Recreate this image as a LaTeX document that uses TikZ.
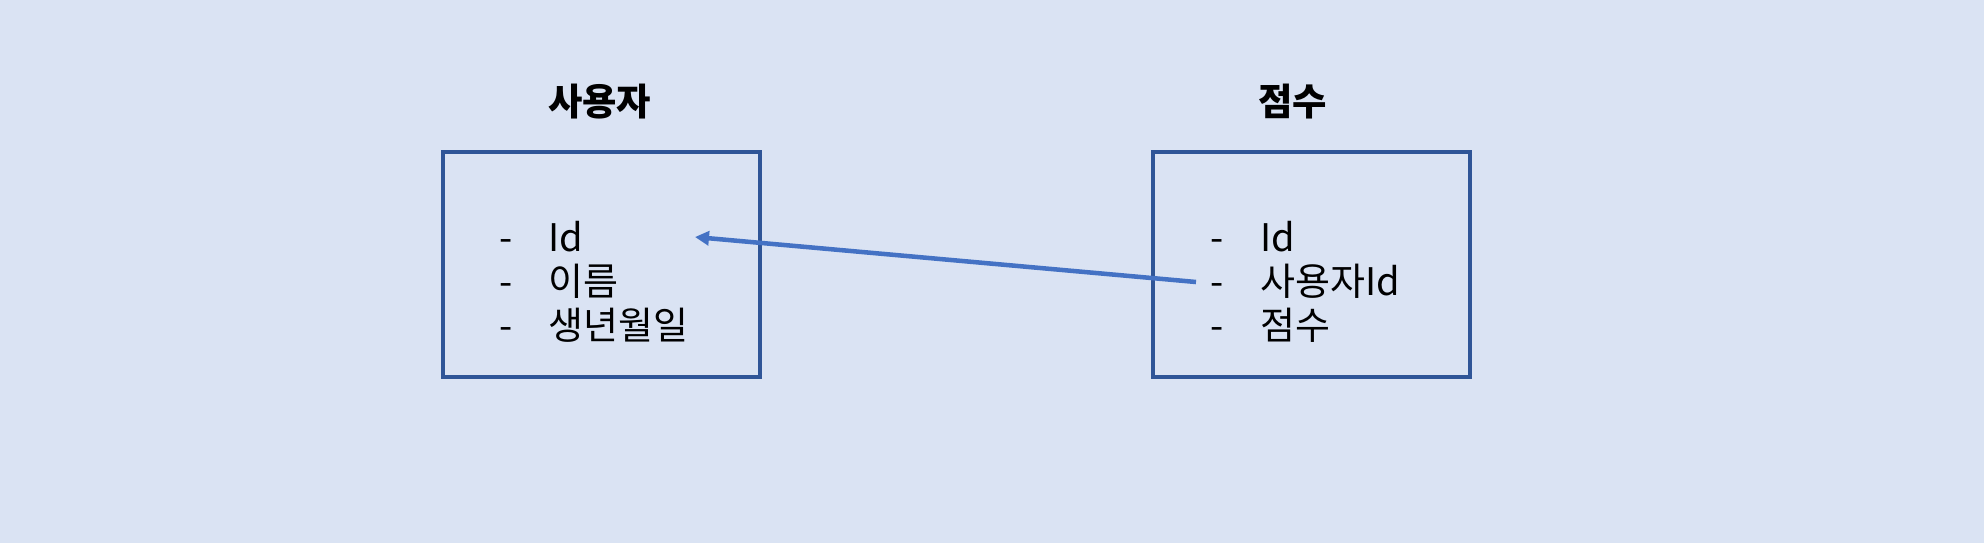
\documentclass[tikz,border=0pt]{standalone}
\usepackage{fontspec}
\setmainfont{Noto Sans CJK KR}
\usetikzlibrary{arrows.meta}
\definecolor{Paper}{HTML}{DAE3F3}
\definecolor{Frame}{HTML}{2F5597}
\definecolor{Link}{HTML}{4472C4}

\begin{document}
\begin{tikzpicture}[x=0.75pt,y=0.75pt,
    entity/.style={draw=Frame,line width=3.4pt,minimum width=237.75pt,minimum height=168.75pt,inner sep=0pt},
    title/.style={anchor=base west,inner sep=0pt,font=\fontsize{28}{33}\selectfont\bfseries},
    field/.style={anchor=base west,inner sep=0pt,font=\fontsize{28.5}{34}\selectfont},
    link/.style={Link,line width=3.4pt,-{Triangle[length=10.5pt,width=10.5pt]}}]
    \fill[Paper] (0,0) rectangle (1984,-543);
    % tables
    \node[entity] (user) at (601.5,-264.5) {};
    \node[entity] (score) at (1311.5,-264.5) {};
    \node[title] (usertitle) at (548,-115) {사용자};
    \node[title] (scoretitle) at (1258,-115) {점수};
    % fields
    \foreach \y/\t [count=\i] in {251/Id,295/이름,339/생년월일} {
      \node[field] (userdash\i) at (499,-\y) {-};
      \node[field] (user\i) at (548,-\y) {\t};
    }
    \foreach \y/\t [count=\i] in {251/Id,295/사용자Id,339/점수} {
      \node[field] (scoredash\i) at (1210,-\y) {-};
      \node[field] (score\i) at (1260,-\y) {\t};
    }
    % foreign key
    \coordinate (fk) at ([shift={(-64,13)}]score2.base west);
    \coordinate (pk) at ([shift={(147,14)}]user1.base west);
    \draw[link] (fk) -- (pk);
\end{tikzpicture}
\end{document}
